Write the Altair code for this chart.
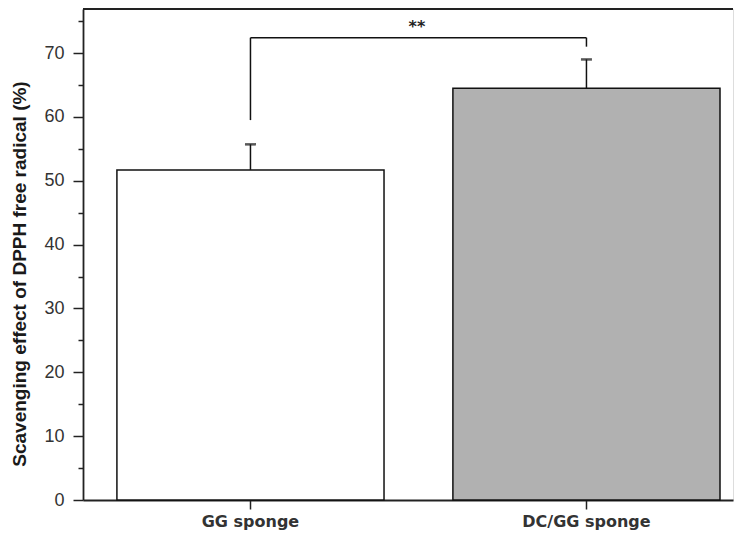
import altair as alt
import pandas as pd

categories = ["GG sponge", "DC/GG sponge"]
means = [51.7, 64.5]
errors = [4.0, 4.5]
fills = ["#ffffff", "#b1b1b1"]
leg_bottoms = [59.5, 71.0]
bracket_top = 72.4
star_text = "**"
star_y = 74.1
y_max = 76.9
major_ticks = [0, 10, 20, 30, 40, 50, 60, 70]
minor_ticks = [5, 15, 25, 35, 45, 55, 65, 75]

df = pd.DataFrame({
    "cat": categories,
    "mean": means,
    "hi": [m + e for m, e in zip(means, errors)],
    "fill": fills,
    "leg_bottom": leg_bottoms,
    "leg_top": [bracket_top] * len(categories),
})
bracket_df = pd.DataFrame({"a": [categories[0]], "b": [categories[1]], "top": [bracket_top],
                           "star_y": [star_y], "label": [star_text]})

W, H = 650, 491
pi = 0.205
xscale = alt.Scale(domain=categories, paddingInner=pi, paddingOuter=0.0698, align=0.723)
yscale = alt.Scale(domain=[0, y_max], nice=False, zero=True)

x_axis = alt.Axis(title=None, labelAngle=0, labelFont="DejaVu Sans", labelFontWeight="bold",
                  labelFontSize=16, labelColor="#333333", labelPadding=4, tickSize=9,
                  tickWidth=1.5, tickColor="#222222", domainColor="#222222", domainWidth=1.8)
major_axis = alt.Axis(title="Scavenging effect of DPPH free radical (%)", values=major_ticks,
                      orient="left", tickSize=10,
                      tickWidth=1.5, tickColor="#222222", domainColor="#222222", domainWidth=1.8,
                      labelFont="Liberation Sans", labelFontSize=18, labelColor="#333333",
                      labelPadding=9, titleFont="Liberation Sans", titleFontSize=19,
                      titleFontWeight="bold", titleColor="#1a1a1a", titlePadding=14,
                      titleY=H / 2 + 19, grid=False)
minor_axis = alt.Axis(title=None, values=minor_ticks, orient="left", tickSize=5, tickWidth=1.5,
                      tickColor="#222222", labels=False, domain=False, grid=False)

bars = alt.Chart(df).mark_bar(stroke="#111111", strokeWidth=1.5).encode(
    x=alt.X("cat:N", scale=xscale, sort=categories, axis=x_axis),
    y=alt.Y("mean:Q", scale=yscale, axis=major_axis),
    fill=alt.Fill("fill:N", scale=None),
)
err = alt.Chart(df).mark_rule(color="#111111", strokeWidth=1.5).encode(
    x=alt.X("cat:N", scale=xscale, sort=categories, axis=x_axis),
    y=alt.Y("mean:Q", scale=yscale, axis=minor_axis), y2="hi:Q")
caps = alt.Chart(df).mark_tick(color="#111111", size=11, thickness=2.5).encode(
    x=alt.X("cat:N", scale=xscale, sort=categories, axis=x_axis),
    y=alt.Y("hi:Q", scale=yscale, axis=None))
legs = alt.Chart(df).mark_rule(color="#111111", strokeWidth=1.5).encode(
    x=alt.X("cat:N", scale=xscale, sort=categories, axis=x_axis),
    y=alt.Y("leg_bottom:Q", scale=yscale, axis=None), y2="leg_top:Q")
bracket = alt.Chart(bracket_df).mark_rule(color="#111111", strokeWidth=1.5).encode(
    x=alt.X("a:N", scale=xscale, axis=x_axis), x2="b:N",
    y=alt.Y("top:Q", scale=yscale, axis=None))
stars = alt.Chart(bracket_df).mark_text(font="DejaVu Sans", fontSize=16, fontWeight="bold",
                                         color="#222222", baseline="middle", dx=-36).encode(
    x=alt.X("b:N", scale=xscale, bandPosition=0, axis=x_axis),
    y=alt.Y("star_y:Q", scale=yscale, axis=None), text="label:N")
top_line = alt.Chart(bracket_df).mark_rule(color="#222222", strokeWidth=1.8).encode(
    y=alt.Y(datum=y_max, scale=yscale, axis=None))

chart = alt.layer(bars, err, caps, legs, bracket, stars, top_line).resolve_scale(
    y="shared", x="shared").resolve_axis(y="independent", x="shared").properties(
    width=W, height=H,
    autosize=alt.AutoSizeParams(type="none"),
    padding={"left": 75, "top": 1, "right": 2, "bottom": 34},
).configure_view(stroke=None).configure(background="white")

chart.save("out.html", embed_options={"renderer": "svg", "actions": False})
